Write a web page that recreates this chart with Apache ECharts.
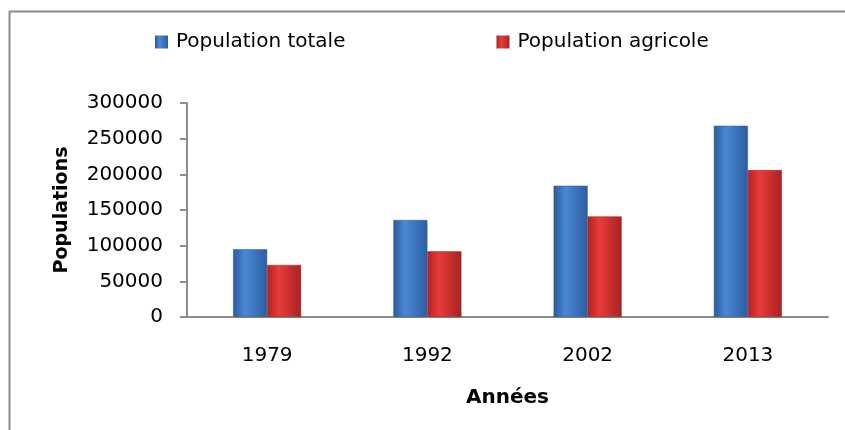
<!DOCTYPE html>
<html>
<head>
<meta charset="utf-8">
<script src="https://cdn.jsdelivr.net/npm/echarts@6/dist/echarts.min.js"></script>
<style>
  html, body { margin: 0; padding: 0; background: #fff; }
  #chart { width: 845px; height: 430px; }
</style>
</head>
<body>
<div id="chart"></div>
<script>
const years = ['1979', '1992', '2002', '2013']
const seriesNames = ['Population totale', 'Population agricole']
const totale = [95000, 136000, 184000, 268000]
const agricole = [73000, 92000, 141000, 206000]
const yTicks = [0, 50000, 100000, 150000, 200000, 250000, 300000]

const chart = echarts.init(document.getElementById('chart'))

const blue = new echarts.graphic.LinearGradient(0, 0, 1, 0, [
  { offset: 0, color: '#2b5b9e' },
  { offset: 0.35, color: '#4a88d4' },
  { offset: 1, color: '#2c5da2' }
])
const red = new echarts.graphic.LinearGradient(0, 0, 1, 0, [
  { offset: 0, color: '#b52222' },
  { offset: 0.35, color: '#e63c3a' },
  { offset: 1, color: '#a82222' }
])

const option = {
  animation: false,
  textStyle: { fontFamily: 'DejaVu Sans' },
  graphic: [
    { type: 'line', shape: { x1: 9, y1: 11.5, x2: 845, y2: 11.5 }, style: { stroke: '#8a8a8a', lineWidth: 2 } },
    { type: 'line', shape: { x1: 9.5, y1: 11, x2: 9.5, y2: 430 }, style: { stroke: '#8a8a8a', lineWidth: 2 } }
  ],
  legend: {
    data: seriesNames,
    left: 150,
    top: 27,
    icon: 'rect',
    itemWidth: 13,
    itemHeight: 13,
    itemGap: 151,
    itemStyle: { borderWidth: 0 },
    textStyle: { fontSize: 20, color: '#000', padding: [0, 0, 0, 3] }
  },
  grid: { left: 187, right: 17, top: 103, bottom: 113 },
  xAxis: {
    type: 'category',
    data: years,
    name: 'Années',
    nameLocation: 'middle',
    nameGap: 71,
    nameTextStyle: { fontSize: 20, fontWeight: 'bold', color: '#000' },
    axisLine: { lineStyle: { color: '#8c8c8c', width: 2 } },
    axisTick: { show: false },
    axisLabel: { fontSize: 20, color: '#000', margin: 29 }
  },
  yAxis: {
    type: 'value',
    min: yTicks[0],
    max: yTicks[yTicks.length - 1],
    interval: yTicks[1] - yTicks[0],
    name: 'Populations',
    nameLocation: 'middle',
    nameGap: 115,
    nameTextStyle: { fontSize: 19, fontWeight: 'bold', color: '#000' },
    axisLine: { show: true, lineStyle: { color: '#8c8c8c', width: 2 } },
    axisTick: { show: true, length: 7, lineStyle: { color: '#8c8c8c', width: 2 } },
    axisLabel: { fontSize: 20, color: '#000', margin: 24, formatter: v => String(v) },
    splitLine: { show: false }
  },
  series: [
    {
      name: seriesNames[0],
      type: 'bar',
      barWidth: 34,
      barGap: '0%',
      itemStyle: { color: blue, borderColor: '#2a5590', borderWidth: 0.5 },
      data: totale
    },
    {
      name: seriesNames[1],
      type: 'bar',
      barWidth: 34,
      barGap: '0%',
      itemStyle: { color: red, borderColor: '#9a2020', borderWidth: 0.5 },
      data: agricole
    }
  ]
}

chart.setOption(option)
</script>
</body>
</html>
